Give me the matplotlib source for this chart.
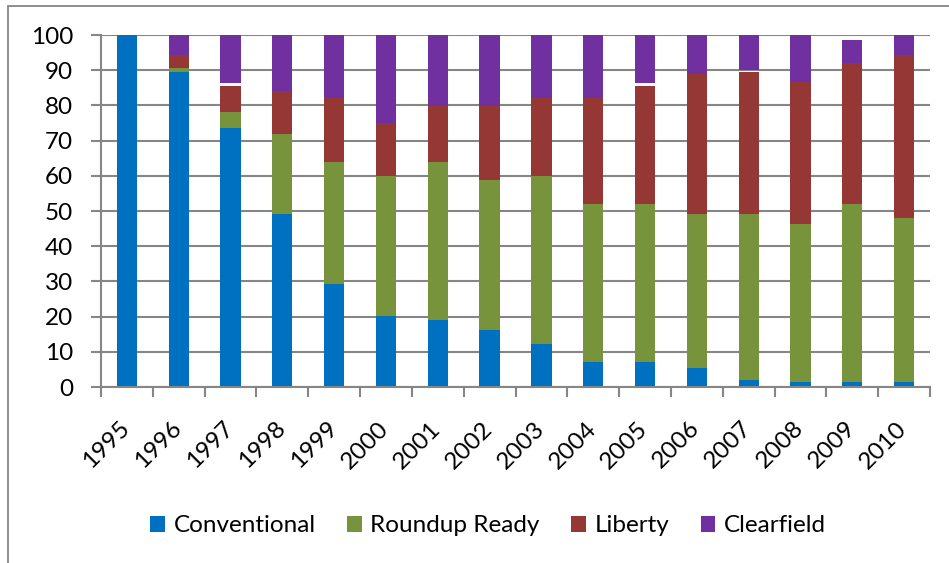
import matplotlib.pyplot as plt
import matplotlib.transforms as mtransforms
import numpy as np
from matplotlib.patches import Rectangle

plt.rcParams["font.family"] = ["Lato", "DejaVu Sans"]

years = [str(y) for y in range(1995, 2011)]
conventional = [100, 89.6, 73.7, 49.2, 29.4, 20.3, 19.1, 16.3, 12.3, 7.2, 7.2, 5.5, 2.1, 1.5, 1.5, 1.5]
roundup_ready = [0, 1.1, 4.5, 22.8, 34.6, 39.7, 44.9, 42.6, 47.7, 44.9, 44.9, 43.7, 47.1, 44.9, 50.6, 46.6]
liberty = [0, 3.5, 7.3, 12.0, 18.2, 14.9, 15.9, 21.0, 22.2, 30.1, 33.4, 39.8, 40.4, 40.3, 39.9, 46.1]
# small unreported share shows up as a gap between Liberty and Clearfield
gap = [0, 0, 0.8, 0, 0, 0, 0, 0, 0, 0, 0.8, 0, 0.4, 0, 0, 0]
clearfield = [0, 5.8, 13.7, 16.0, 17.8, 25.1, 20.1, 20.1, 17.8, 17.8, 13.7, 11.0, 10.0, 13.3, 6.6, 5.8]

colors = ["#0070C0", "#77933C", "#953735", "#7030A0"]
labels = ["Conventional", "Roundup Ready", "Liberty", "Clearfield"]
grey = "#868686"
fs = 17.5

fig = plt.figure(figsize=(9.49, 5.63), dpi=100)
ax = fig.add_axes([101 / 949, 1 - 387 / 563, 829 / 949, 352 / 563])

# chart frame (only top and left edge are visible in the crop)
fig.patches.append(Rectangle((8 / 949, -0.1), 1.2, 1 - 6 / 563 + 0.1, transform=fig.transFigure,
                             fill=False, edgecolor=grey, linewidth=1.3))

x = np.arange(len(years))
w = 0.39
bottom = np.zeros(len(years))
for vals, c, lab in zip([conventional, roundup_ready, liberty], colors[:3], labels[:3]):
    ax.bar(x, vals, w, bottom=bottom, color=c, label=lab, zorder=2)
    bottom += np.array(vals)
bottom += np.array(gap)
ax.bar(x, clearfield, w, bottom=bottom, color=colors[3], label=labels[3], zorder=2)

ax.set_xlim(-0.5, len(years) - 0.5)
ax.set_ylim(0, 100)
ax.set_yticks(range(0, 101, 10))
ax.yaxis.grid(True, color=grey, linewidth=1.5, zorder=0)
ax.set_axisbelow(True)

ax.set_xticks(np.arange(-0.5, len(years), 1.0), minor=False)
ax.set_xticklabels([])
ax.set_xticks(x, minor=True)
ax.set_xticklabels(years, minor=True, rotation=45, ha="right", fontsize=fs)
ax.tick_params(axis="x", which="major", length=7, width=1.5, color=grey, direction="out")
ax.tick_params(axis="x", which="minor", length=0, pad=22)
ax.tick_params(axis="y", length=7, width=1.5, color=grey, labelsize=fs, pad=13)
offset = mtransforms.ScaledTranslation(7 / 100, 0, fig.dpi_scale_trans)
for t in ax.xaxis.get_minorticklabels():
    t.set_transform(t.get_transform() + offset)

for s in ["top", "right"]:
    ax.spines[s].set_visible(False)
for s in ["left", "bottom"]:
    ax.spines[s].set_color(grey)
    ax.spines[s].set_linewidth(1.5)

ax.legend(loc="center", bbox_to_anchor=(488 / 949, 1 - 526 / 563), bbox_transform=fig.transFigure,
          ncol=4, frameon=False, fontsize=fs, handlelength=0.6, handleheight=0.65,
          handletextpad=0.35, columnspacing=1.3, borderpad=0)

fig.savefig("out.png", dpi=100)
